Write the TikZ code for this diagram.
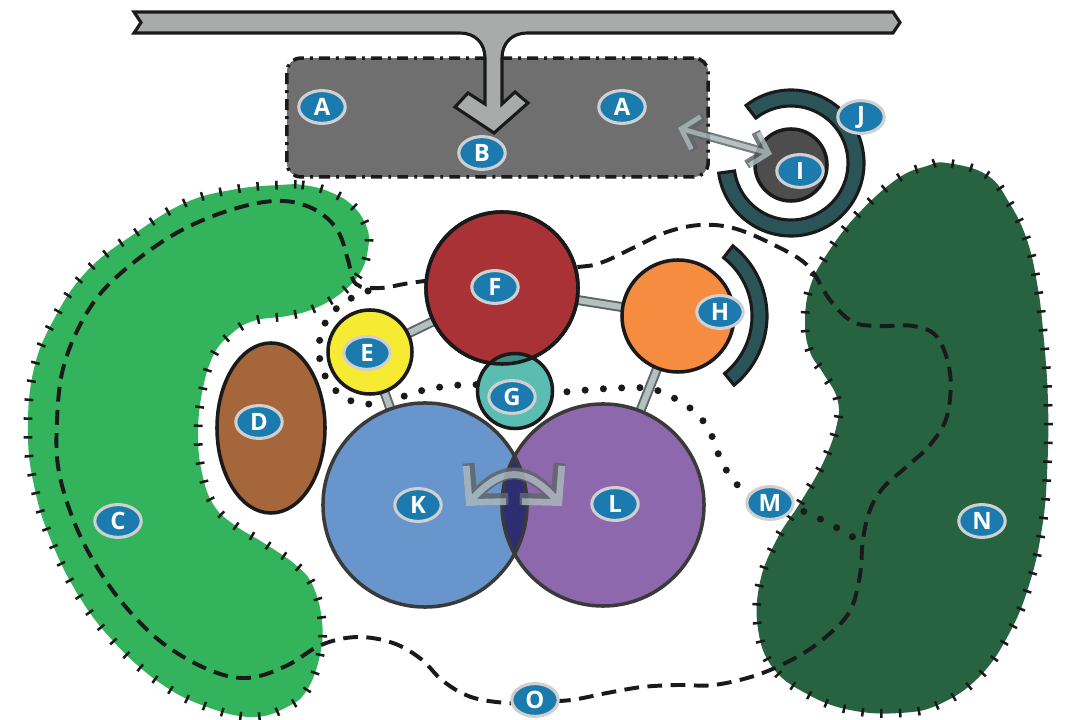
\documentclass[tikz,border=0pt]{standalone}
\usepackage{fontspec}
\setsansfont{Open Sans}
\usepackage{xcolor}
\definecolor{noir}{HTML}{1A1A1A}
\definecolor{grisbarre}{HTML}{A9ABAA}
\definecolor{grisboite}{HTML}{6E6F6E}
\definecolor{vertclair}{HTML}{33B35B}
\definecolor{vertfonce}{HTML}{276340}
\definecolor{rouge}{HTML}{A83236}
\definecolor{jaune}{HTML}{F6EB32}
\definecolor{sarcelle}{HTML}{5BBDB2}
\definecolor{sarcellefonce}{HTML}{3F8A82}
\definecolor{orangevif}{HTML}{F58C40}
\definecolor{petrole}{HTML}{2A5457}
\definecolor{anthracite}{HTML}{4D4D4D}
\definecolor{brun}{HTML}{A4663A}
\definecolor{bleu}{HTML}{6896CC}
\definecolor{mauve}{HTML}{8E68AD}
\definecolor{marine}{HTML}{2D2E72}
\definecolor{gristrait}{HTML}{3A3A3A}
\definecolor{bleuetiq}{HTML}{1B7BAE}
\definecolor{bordetiq}{HTML}{D0D0D0}
\definecolor{grisbord}{HTML}{5F6668}
\definecolor{grisclair}{HTML}{B2C0C0}
\definecolor{grisfleche}{HTML}{A9B6BA}
\usepackage{tikz}
\usetikzlibrary{arrows.meta,calc,shapes.geometric,decorations.pathreplacing}

\begin{document}
\begin{tikzpicture}[x=0.025cm,y=-0.025cm,
  boule/.style={circle,draw=noir,line width=2.5pt,inner sep=0pt},
  etiquette/.style={ellipse,draw=bordetiq,line width=2.2pt,fill=bleuetiq,text=white,inner sep=0pt,minimum width=1.16cm,minimum height=0.82cm,font=\sffamily\bfseries\fontsize{17}{17}\selectfont},
  tirets/.style={draw=noir,line width=2.8pt,dash pattern=on 10.5pt off 6pt},
  pointille/.style={draw=noir,line width=5pt,line cap=round,dash pattern=on 0pt off 13pt},
  tiques/.style={draw=noir,line width=1.8pt,decorate,decoration={ticks,segment length=0.47cm,amplitude=0.11cm}},
  liaison/.style={draw=grisbord,line width=7.1pt},
  liaisonint/.style={draw=grisclair,line width=4.3pt},
  pointeA/.tip={Straight Barb[length=11pt,width=24pt]},
  pointeB/.tip={Straight Barb[length=18pt,width=38pt]}
]
\useasboundingbox (0,0) rectangle (1068,720);

% zones vertes
\fill[vertclair,postaction={tiques}] plot[smooth cycle,tension=0.7] coordinates {(280,185) (303,185) (330,192) (353,206) (367,228) (368,249) (360,273) (340,294) (313,309) (287,316) (253,321) (230,335) (213,356) (202,393) (198,435) (202,473) (213,504) (233,524) (267,545) (297,566) (313,586) (322,621) (320,655) (307,690) (287,707) (253,717) (207,707) (160,683) (113,641) (77,593) (50,538) (35,490) (28,437) (33,373) (53,321) (87,271) (137,232) (187,202) (237,189)};
\fill[vertfonce,postaction={tiques}] plot[smooth cycle,tension=0.7] coordinates {(947,163) (987,175) (1010,204) (1027,240) (1037,283) (1043,330) (1048,402) (1047,474) (1042,528) (1030,582) (1010,632) (980,676) (940,704) (900,713) (850,710) (807,694) (773,668) (758,629) (760,582) (777,539) (800,503) (823,463) (837,424) (837,398) (823,373) (810,352) (805,323) (810,287) (827,254) (857,215) (897,179) (927,166)};

% contours
\draw[tirets] plot[smooth cycle,tension=0.6] coordinates {(502,272) (578,267) (603,262) (635,247) (667,232) (700,225) (733,228) (770,243) (807,265) (830,300) (853,322) (880,326) (913,326) (937,337) (950,373) (947,416) (930,445) (905,468) (883,488) (870,510) (863,539) (860,575) (850,611) (827,636) (797,657) (757,675) (714,685) (678,685) (642,687) (607,693) (571,700) (535,702) (507,703) (471,697) (443,681) (421,659) (393,643) (357,637) (321,645) (286,666) (247,678) (207,669) (160,641) (120,600) (90,555) (70,511) (58,466) (57,421) (62,373) (77,331) (100,294) (133,263) (173,235) (213,216) (253,204) (283,201) (307,206) (327,218) (340,235) (348,260) (356,284) (380,288) (417,282)};
\draw[pointille] plot[smooth,tension=0.6] coordinates {(368,291) (348,300) (332,313) (322,330) (319,350) (322,368) (330,384) (345,398) (365,404) (390,401) (420,391) (460,385) (510,386) (555,392) (600,389) (645,388) (670,396) (695,412) (710,432) (720,458) (733,480) (750,495) (775,505) (800,510) (830,524) (863,543)};

% boite et bandeau
\node[draw=noir,fill=grisboite,line width=2.5pt,rounded corners=0.35cm,dash pattern=on 7.8pt off 4.3pt on 2.1pt off 4.3pt,minimum width=10.53cm,minimum height=2.97cm] (boite) at (497.5,117.5) {};
\draw[fill=grisbarre,draw=noir,line width=2.2pt,line join=miter] (134,12) -- (893,12) -- (900,22.5) -- (893,33) -- (527,33) .. controls (512,33) and (502,43) .. (502,58) -- (502,104) -- (515,92) -- (528,103) -- (494,133) -- (455,107) -- (468,93) -- (485,104) -- (485,58) .. controls (485,43) and (475,33) .. (460,33) -- (134,33) -- (141,22.5) -- cycle;

% centres
\coordinate (cE) at (370,352);
\coordinate (cF) at (502,288);
\coordinate (cH) at (678,316);
\coordinate (cK) at (425,505);
\coordinate (cL) at (603,505);
\foreach \a/\b in {cE/cF,cF/cH,cE/cK,cH/cL}{
  \draw[liaison] (\a) -- (\b);
  \draw[liaisonint] (\a) -- (\b);
}

% disques
\node[boule,fill=brun,ellipse,minimum width=2.7cm,minimum height=4.25cm] (D) at (271,428) {};
\node[boule,fill=jaune,minimum size=2.1cm] (E) at (cE) {};
\node[boule,fill=rouge,minimum size=3.8cm] (F) at (cF) {};
\node[boule,fill=orangevif,minimum size=2.8cm] (H) at (cH) {};
\node[boule,draw=none,fill=sarcelle,minimum size=1.875cm] (G) at (515,391) {};
\begin{scope}
  \clip (F.center) circle[radius=1.9cm];
  \fill[sarcellefonce] (G.center) circle[radius=0.9375cm];
\end{scope}
\draw[noir,line width=2.5pt] (F.center) circle[radius=1.9cm];
\draw[noir,line width=2.5pt] (G.center) circle[radius=0.9375cm];

\node[boule,draw=none,fill=bleu,minimum size=5.1cm] (K) at (cK) {};
\node[boule,draw=none,fill=mauve,minimum size=5.05cm] (L) at (cL) {};
\begin{scope}
  \clip (K.center) circle[radius=2.55cm];
  \fill[marine] (L.center) circle[radius=2.525cm];
\end{scope}
\draw[gristrait,line width=2.5pt] (K.center) circle[radius=2.55cm];
\draw[gristrait,line width=2.5pt] (L.center) circle[radius=2.525cm];

% arcs
\draw[fill=petrole,draw=noir,line width=2.2pt] ([shift={(-51:2.225cm)}]H.center) arc[start angle=-51,end angle=52,radius=2.225cm] -- ([shift={(52:1.85cm)}]H.center) arc[start angle=52,end angle=-51,radius=1.85cm] -- cycle;
\coordinate (cJ) at (791,163);
\draw[fill=petrole,draw=noir,line width=2.2pt] ([shift={(-172:1.825cm)}]cJ) arc[start angle=-172,end angle=128,radius=1.825cm] -- ([shift={(128:1.425cm)}]cJ) arc[start angle=128,end angle=-172,radius=1.425cm] -- cycle;
\node[boule,fill=anthracite,minimum size=1.8cm] (I) at (791,165) {};

% fleches doubles
\coordinate (fg) at (678,128);
\coordinate (fd) at (772,154);
\coordinate (kg) at (466,506);
\coordinate (kd) at (562,506);
\begin{scope}[transparency group,opacity=0.85]
\foreach \w/\c in {6.4pt/grisbord,3.4pt/grisfleche}
  \draw[line width=\w,draw=\c,pointeA-pointeA] (fg) -- (fd);
\end{scope}
\begin{scope}[transparency group,opacity=0.85]
\foreach \w/\c in {8.5pt/grisbord,4.8pt/grisfleche}
  \draw[line width=\w,draw=\c,pointeB-pointeB] (kg) .. controls (502,466) and (526,466) .. (kd);
\end{scope}

% etiquettes
\foreach \t/\x/\y [count=\i] in {A/322/107,A/622/107,B/482/153,C/118/521,D/259/422,E/367/353,F/495/287,G/512/397,H/720/312,I/800/171,J/861/117,K/418/505,L/615/504,M/770/503,N/982/521,O/535/700}
  \node[etiquette] (et\i) at (\x,\y) {\t};
\end{tikzpicture}
\end{document}
